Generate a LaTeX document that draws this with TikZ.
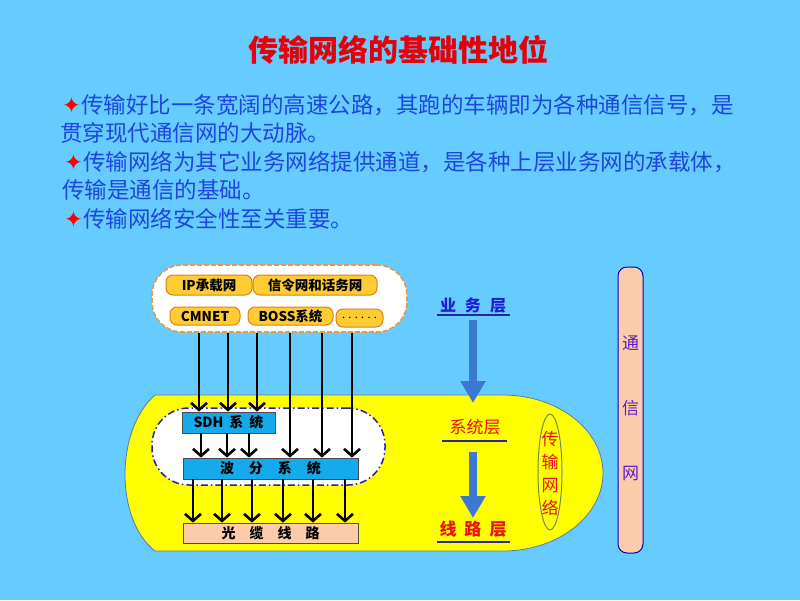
\documentclass[tikz,border=0pt]{standalone}
\usepackage{fontspec}
\setmainfont{Noto Sans CJK SC}
\newfontfamily\djv{DejaVu Sans}
\usetikzlibrary{arrows.meta,shapes.geometric}
\definecolor{bg}{RGB}{102,204,255}
\definecolor{txtblue}{RGB}{30,70,225}
\definecolor{titlered}{RGB}{230,0,10}
\definecolor{ylw}{RGB}{255,255,0}
\definecolor{ylwline}{RGB}{90,120,170}
\definecolor{obox}{RGB}{255,204,51}
\definecolor{oline}{RGB}{220,130,20}
\definecolor{cyanbox}{RGB}{20,170,235}
\definecolor{peach}{RGB}{252,204,170}
\definecolor{dashc}{RGB}{50,30,170}
\definecolor{barrowc}{RGB}{60,120,210}
\definecolor{ulc}{RGB}{40,40,150}
\definecolor{lblblue}{RGB}{30,30,215}
\definecolor{lblred}{RGB}{235,20,10}
\definecolor{purp}{RGB}{90,30,200}
\definecolor{olivec}{RGB}{110,140,90}
\newcommand{\bul}{{\djv\color{red}✦}}
\tikzset{
  btext/.style={inner sep=0pt, anchor=west, text=txtblue, font=\fontsize{22.5}{27}\selectfont},
  orbox/.style={draw=oline, line width=1pt, fill=obox, rounded corners=7pt, inner sep=0pt, font=\fontsize{13.5}{15}\selectfont\bfseries},
  sysbox/.style={draw=black!70, line width=0.8pt, inner sep=0pt, font=\fontsize{14}{16}\selectfont\bfseries},
  arr/.style={line width=2.6pt, -{Straight Barb[length=7pt,width=16pt]}},
  barrow/.style={draw=barrowc, line width=8pt, -{Triangle[length=22pt,width=24pt]}},
  ul/.style={draw=ulc, line width=1.8pt},
}
\begin{document}
\begin{tikzpicture}[x=1pt,y=-1pt]
\fill[bg] (0,0) rectangle (800,600);
\useasboundingbox (0,0) rectangle (800,600);

% title
\node[font=\fontsize{30}{34}\selectfont\bfseries, text=titlered, inner sep=0pt] (title) at (398,50) {传输网络的基础性地位};

% bullet text
\node[btext] (l1) at (62,105) {\bul 传输好比一条宽阔的高速公路，其跑的车辆即为各种通信信号，是};
\node[btext] (l2) at (60,133) {贯穿现代通信网的大动脉。};
\node[btext] (l3) at (64,162) {\bul 传输网络为其它业务网络提供通道，是各种上层业务网的承载体，};
\node[btext] (l4) at (62,190) {传输是通信的基础。};
\node[btext] (l5) at (64,219) {\bul 传输网络安全性至关重要。};

% yellow transport region
\draw[fill=ylw, draw=ylwline, line width=0.8pt]
  (155,395) -- (503,395)
  .. controls (558,395) and (603,430) .. (603,473)
  .. controls (603,516) and (558,551) .. (503,551)
  -- (155,551)
  .. controls (115,520) and (115,430) .. (155,395) -- cycle;

% dash-dot system region
\node[draw=dashc, fill=white, line width=1.5pt, rounded corners=37pt,
  dash pattern=on 7pt off 3pt on 1.5pt off 3pt,
  minimum width=233pt, minimum height=77pt, inner sep=0pt] (sysreg) at (268.5,446.5) {};

% top service container
\node[draw=oline!80, fill=white, line width=1.6pt, rounded corners=30pt,
  dash pattern=on 5pt off 2pt, minimum width=255pt, minimum height=67pt, inner sep=0pt] (top) at (279.5,298.5) {};
\node[orbox, minimum width=86pt, minimum height=20pt] (ip) at (209,285) {IP承载网};
\node[orbox, minimum width=124pt, minimum height=20pt] (sig) at (315,285) {信令网和话务网};
\node[orbox, minimum width=70pt, minimum height=18pt] (cm) at (205,316) {CMNET};
\node[orbox, minimum width=85pt, minimum height=18pt] (boss) at (290.5,316) {BOSS系统};
\node[orbox, minimum width=47pt, minimum height=18pt] (dots) at (359.5,318) {$\cdots\cdots$};

% system boxes
\node[sysbox, fill=cyanbox, minimum width=93pt, minimum height=21pt] (sdh) at (228.5,422.5) {SDH\hspace{6pt}系\hspace{6pt}统};
\node[sysbox, fill=cyanbox, minimum width=175pt, minimum height=21pt] (wdm) at (270.5,468.5) {波\hspace{15pt}分\hspace{15pt}系\hspace{15pt}统};
\node[sysbox, fill=peach, minimum width=175pt, minimum height=20pt] (fiber) at (270.5,533) {光\hspace{14pt}缆\hspace{14pt}线\hspace{14pt}路};

% black arrows
\foreach \x in {199,228,257} \draw[arr] (\x,0 |- top.south) -- (\x,0 |- sdh.north);
\foreach \x in {290,322,352} \draw[arr] (\x,0 |- top.south) -- (\x,0 |- wdm.north);
\foreach \x in {201,227,249} \draw[arr] (\x,0 |- sdh.south) -- (\x,0 |- wdm.north);
\foreach \x in {193,222,252,283,313,345} \draw[arr] (\x,0 |- wdm.south) -- (\x,0 |- fiber.north);

% layer labels
\node[inner sep=0pt, minimum width=73pt, text=lblblue, font=\fontsize{16}{18}\selectfont\bfseries] (yw) at (473,306) {业\hspace{9pt}务\hspace{9pt}层};
\draw[ul] (437,315) -- (510,315);
\node[inner sep=0pt, minimum width=65pt, text=lblred, font=\fontsize{17}{19}\selectfont] (xt) at (475,427) {系统层};
\draw[ul] (442,441) -- (507,441);
\node[inner sep=0pt, minimum width=73pt, text=lblred, font=\fontsize{17}{19}\selectfont\bfseries] (xl) at (473,529) {线\hspace{8pt}路\hspace{8pt}层};
\draw[ul] (437,542) -- (510,542);

\coordinate (a1s) at (473,320);
\coordinate (a1e) at (473,403);
\coordinate (a2s) at (473,452);
\coordinate (a2e) at (473,518);
\draw[barrow] (a1s) -- (a1e);
\draw[barrow] (a2s) -- (a2e);

% transport network tag
\node[draw=olivec, line width=1pt, ellipse, minimum width=24pt, minimum height=116pt, inner sep=0pt] (cswl) at (550,472) {};
\node[text=lblred, align=center, inner sep=0pt, font=\fontsize{17}{23}\selectfont] (csw) at (550,473) {传\\输\\网\\络};

% communication network bar
\node[draw=blue!70!black, line width=1pt, fill=peach, rounded corners=9pt, minimum width=25pt, minimum height=286pt, inner sep=0pt] (txwbar) at (630.5,410) {};
\node[text=purp, align=center, inner sep=0pt, font=\fontsize{17}{65}\selectfont] (txw) at (630.5,408) {通\\信\\网};
\end{tikzpicture}
\end{document}
